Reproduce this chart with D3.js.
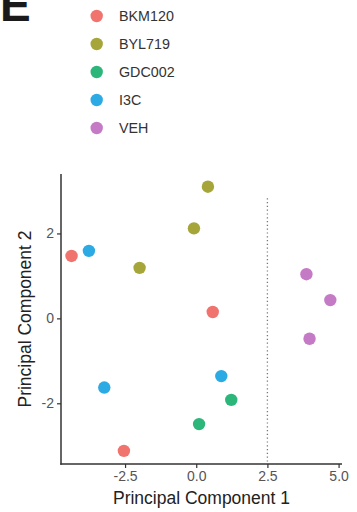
<!DOCTYPE html>
<html>
<head>
<meta charset="utf-8">
<script src="https://cdn.jsdelivr.net/npm/d3@7"></script>
<style>
  html, body { margin: 0; padding: 0; background: #fff; }
  svg { display: block; font-family: "Liberation Sans", Arial, sans-serif; }
</style>
</head>
<body>
<svg id="chart" width="357" height="512"></svg>
<script>
// PCA scores by treatment group
const groups = ["BKM120", "BYL719", "GDC002", "I3C", "VEH"];
const groupColors = ["#F0736E", "#A6A53A", "#2DB67A", "#2CAAE4", "#C47AC5"];

const bkm120 = [[-4.38, 1.47], [0.58, 0.15], [-2.54, -3.12]];
const byl719 = [[0.41, 3.10], [-0.08, 2.12], [-1.99, 1.19]];
const gdc002 = [[0.10, -2.49], [1.23, -1.92]];
const i3c    = [[-3.77, 1.59], [-3.23, -1.63], [0.88, -1.36]];
const veh    = [[3.87, 1.04], [4.71, 0.43], [3.98, -0.48]];

const xTicks = [-2.5, 0.0, 2.5, 5.0];
const yTicks = [-2, 0, 2];

// dotted cut-off along PC1
const cutoffX = 2.5;
const cutoffTop = 2.83;

const seriesPoints = [bkm120, byl719, gdc002, i3c, veh];
const points = seriesPoints.flatMap((pts, i) =>
  pts.map(([x, y]) => ({ group: groups[i], x, y })));

const svg = d3.select("#chart");
const margin = { left: 61, top: 174, right: 15, bottom: 48 };
const W = 357, H = 512;

const x = d3.scaleLinear().domain([-4.75, 5.12]).range([margin.left, W - margin.right]);
const y = d3.scaleLinear().domain([-3.43, 3.40]).range([H - margin.bottom, margin.top]);
const color = d3.scaleOrdinal().domain(groups).range(groupColors);

const hyphen = s => s.replace("\u2212", "-");

// panel letter
svg.append("text")
  .attr("x", 0).attr("y", 21)
  .attr("font-size", 46).attr("font-weight", "bold")
  .attr("fill", "#1a1a1a")
  .text("E");

// legend
const legend = svg.append("g");
groups.forEach((g, i) => {
  const ly = 16 + i * 28;
  legend.append("circle")
    .attr("cx", 96.7).attr("cy", ly).attr("r", 6.2)
    .attr("fill", color(g));
  legend.append("text")
    .attr("x", 119).attr("y", ly).attr("dy", "0.36em")
    .attr("font-size", 14.3).attr("fill", "#333")
    .text(g);
});

// axes
const axisColor = "#333";
const xAxis = svg.append("g")
  .attr("transform", `translate(0,${H - margin.bottom})`)
  .call(d3.axisBottom(x).tickValues(xTicks).tickSizeOuter(0).tickSize(4).tickPadding(3)
    .tickFormat(d => hyphen(d3.format(".1f")(d))));
const yAxis = svg.append("g")
  .attr("transform", `translate(${margin.left},0)`)
  .call(d3.axisLeft(y).tickValues(yTicks).tickSizeOuter(0).tickSize(4).tickPadding(3)
    .tickFormat(d => hyphen(d3.format("d")(d))));

[xAxis, yAxis].forEach(ax => {
  ax.select(".domain").attr("stroke", axisColor).attr("stroke-width", 1.5);
  ax.selectAll(".tick line").attr("stroke", axisColor).attr("stroke-width", 1.2);
  ax.selectAll(".tick text")
    .attr("fill", "#555").attr("font-size", 14)
    .attr("font-family", "Liberation Sans, Arial, sans-serif");
});
// axis lines meet at the corner
xAxis.select(".domain").attr("d", `M${x.range()[0] - 0.75},0H${x.range()[1]}`);
yAxis.select(".domain").attr("d", `M0,${y.range()[1]}V${y.range()[0] + 0.75}`);

// cut-off line
svg.append("line")
  .attr("x1", x(cutoffX)).attr("x2", x(cutoffX))
  .attr("y1", y(cutoffTop)).attr("y2", y.range()[0])
  .attr("stroke", "#777").attr("stroke-width", 1.3)
  .attr("stroke-dasharray", "1.2,2.6");

// points
svg.append("g").selectAll("circle")
  .data(points)
  .join("circle")
  .attr("cx", d => x(d.x))
  .attr("cy", d => y(d.y))
  .attr("r", 6.2)
  .attr("fill", d => color(d.group));

// axis titles
svg.append("text")
  .attr("x", (x.range()[0] + x.range()[1]) / 2).attr("y", 504)
  .attr("text-anchor", "middle")
  .attr("font-size", 17.5).attr("fill", "#222")
  .text("Principal Component 1");
svg.append("text")
  .attr("transform", `translate(30.5,${(y.range()[0] + y.range()[1]) / 2}) rotate(-90)`)
  .attr("text-anchor", "middle")
  .attr("font-size", 17.5).attr("fill", "#222")
  .text("Principal Component 2");
</script>
</body>
</html>
